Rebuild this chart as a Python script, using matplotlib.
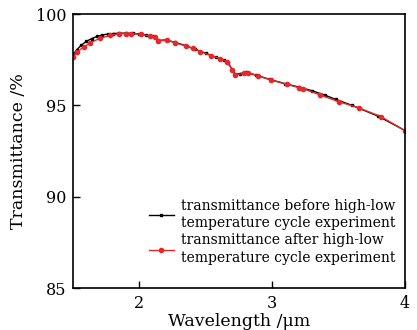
import matplotlib
matplotlib.use("Agg")
import matplotlib.pyplot as plt

# wavelength (um) and transmittance (%)
wl_after = [1.50, 1.53, 1.58, 1.63, 1.70, 1.78, 1.85, 1.90, 1.94, 2.01, 2.08, 2.12, 2.14,
            2.21, 2.27, 2.35, 2.40, 2.46, 2.54, 2.61, 2.66, 2.70, 2.72, 2.79, 2.82,
            2.89, 2.99, 3.11, 3.20, 3.23, 3.36, 3.50, 3.65, 3.82, 4.00]
tr_after = [97.62, 97.92, 98.19, 98.42, 98.66, 98.83, 98.92, 98.93, 98.93, 98.89, 98.79, 98.74, 98.52,
            98.57, 98.42, 98.25, 98.12, 97.94, 97.72, 97.56, 97.39, 96.93, 96.66, 96.75, 96.79,
            96.62, 96.39, 96.15, 95.97, 95.92, 95.57, 95.20, 94.87, 94.38, 93.61]

wl_before = [1.50, 1.53, 1.56, 1.60, 1.64, 1.68, 1.72, 1.76, 1.80, 1.85, 1.90, 1.95, 2.00,
             2.05, 2.10, 2.12, 2.14, 2.20, 2.27, 2.35, 2.42, 2.50, 2.58, 2.64, 2.67,
             2.70, 2.72, 2.76, 2.80, 2.88, 2.98, 3.10, 3.20, 3.30, 3.40, 3.48, 3.60,
             3.80, 4.00]
tr_before = [97.78, 98.05, 98.28, 98.50, 98.65, 98.77, 98.85, 98.90, 98.93, 98.95, 98.95, 98.94, 98.91,
             98.85, 98.78, 98.74, 98.55, 98.58, 98.44, 98.27, 98.07, 97.85, 97.62, 97.47, 97.30,
             96.95, 96.70, 96.74, 96.80, 96.65, 96.42, 96.18, 96.00, 95.80, 95.55, 95.32, 95.00,
             94.40, 93.62]

plt.rcParams["font.family"] = "DejaVu Serif"

fig = plt.figure(figsize=(4.17, 3.30), dpi=100)
ax = fig.add_axes([73 / 417, 1 - 288 / 330, 332 / 417, 274 / 330])

ax.plot(wl_before, tr_before, "-s", color="black", lw=1.0, ms=2.0,
        label="transmittance before high-low\ntemperature cycle experiment")
ax.plot(wl_after, tr_after, "-o", color="#e8272a", lw=1.0, ms=3.0,
        label="transmittance after high-low\ntemperature cycle experiment")

ax.set_xlim(1.5, 4)
ax.set_ylim(85, 100)
ax.set_xticks([2, 3, 4])
ax.set_yticks([85, 90, 95, 100])
ax.tick_params(direction="in", labelsize=11.5, length=5, width=1, pad=5)
ax.set_xlabel("Wavelength /μm", fontsize=12.5, labelpad=1)
ax.set_ylabel("Transmittance /%", fontsize=12.5, labelpad=6)
for s in ax.spines.values():
    s.set_linewidth(1.2)

ax.legend(loc="lower right", bbox_to_anchor=(1.0, 0.05), frameon=False, fontsize=10,
          handlelength=1.8, handletextpad=0.5, labelspacing=0.25, borderaxespad=0.3)
plt.setp(ax.get_legend().get_texts(), linespacing=1.3)

fig.savefig("out.png", dpi=100)
